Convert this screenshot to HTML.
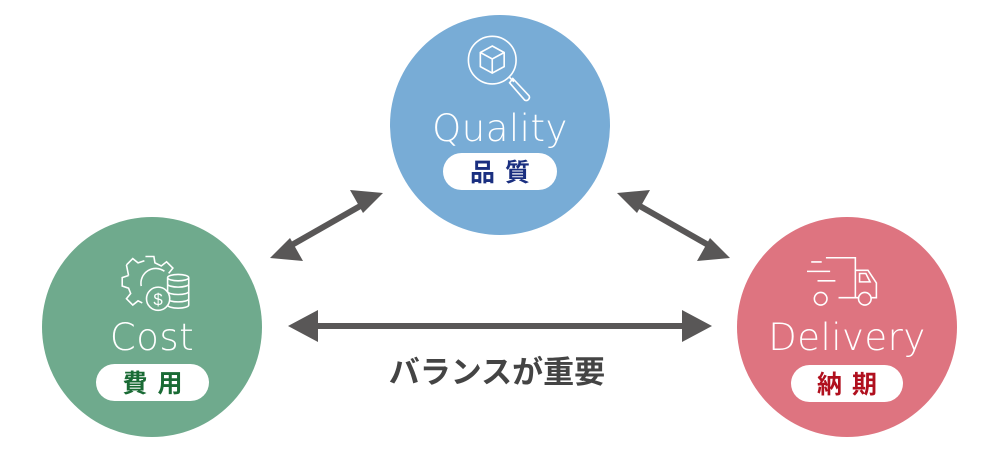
<!DOCTYPE html>
<html><head><meta charset="utf-8"><style>
body{margin:0;background:#fff;width:1000px;height:452px;overflow:hidden;position:relative;font-family:"Liberation Sans","Noto Sans CJK JP",sans-serif}
.c{position:absolute;width:220px;height:220px;border-radius:50%}
.t{position:absolute;left:0;width:220px;text-align:center;color:#fff;font-size:37px;letter-spacing:0.5px;font-family:"DejaVu Sans","Liberation Sans",sans-serif;font-weight:200}
.p{position:absolute;height:37px;background:#fff;border-radius:19px;text-align:center;font-weight:bold;font-size:25px;line-height:37px;letter-spacing:10px;font-family:"Noto Sans CJK JP",sans-serif}
svg{position:absolute}
</style></head><body>
<div class="c" style="left:390px;top:15px;background:#78acd6">
 <svg style="left:76px;top:18px" width="72" height="78" viewBox="0 0 66 72" fill="none" stroke="#fff" stroke-width="1.5">
  <circle cx="24" cy="25" r="22"/>
  <path d="M24 12 L35 18 L35 31 L24 37 L13 31 L13 18 Z M13 18 L24 24 L35 18 M24 24 L24 37"/>
  <path d="M40 41 L44 45 M43 42 L58 58 a3 3 0 0 1 -4 4 L40 46 Z"/>
 </svg>
 <div class="t" style="top:92px">Quality</div>
 <div class="p" style="left:53px;top:138px;width:114px;color:#1a2f80;padding-left:10px;box-sizing:border-box">品質</div>
</div>
<div class="c" style="left:42px;top:217px;background:#6faa8d">
 <svg style="left:76px;top:33px" width="76" height="70" viewBox="0 0 72 66" fill="none" stroke="#fff" stroke-width="1.5">
  <path d="M26 6 L34 6 L35 12 L41 15 L46 11 L52 17 L48 22 M10 24 L4 26 L4 34 L10 36 L12 41 L8 46 L14 52 L19 48 L23 50 M8 14 L14 8 L19 12 L25 10 M10 24 L8 14"/>
  <path d="M22 34 a14 14 0 0 1 22 -14"/>
  <ellipse cx="57" cy="26" rx="10" ry="3"/>
  <path d="M47 26 v26 M67 26 v26 a10 3 0 0 1 -20 0 M47 32 a10 3 0 0 0 20 0 M47 39 a10 3 0 0 0 20 0 M47 46 a10 3 0 0 0 20 0"/>
  <circle cx="38" cy="46" r="11" fill="#6faa8d"/>
  <text x="38" y="52" font-size="16" fill="#fff" stroke="none" text-anchor="middle" font-family="Liberation Sans">$</text>
 </svg>
 <div class="t" style="top:99px">Cost</div>
 <div class="p" style="left:54px;top:147px;width:113px;color:#1a6b35;padding-left:10px;box-sizing:border-box">費用</div>
</div>
<div class="c" style="left:737px;top:217px;background:#de7480">
 <svg style="left:70px;top:40px" width="82" height="54" viewBox="0 0 78 50" fill="none" stroke="#fff" stroke-width="1.5">
  <path d="M4 4 L14 4 M0 13 L22 13 M10 22 L27 22"/>
  <path d="M18 0 L46 0 L46 38 L30 38 M46 12 L58 12 L66 24 L66 38 L61 38 M46 38 L49 38"/>
  <path d="M50 15 L56 15 L60 23 L50 23 Z"/>
  <circle cx="13" cy="39" r="6"/><circle cx="55" cy="39" r="6"/>
 </svg>
 <div class="t" style="top:99px">Delivery</div>
 <div class="p" style="left:54px;top:148px;width:112px;color:#b0101e;padding-left:10px;box-sizing:border-box">納期</div>
</div>
<svg style="left:0;top:0" width="1000" height="452">
 <g fill="#595757" stroke="#595757">
  <line x1="290" y1="246" x2="362" y2="205" stroke-width="6"/>
  <polygon points="270,258 303,261 290,238" stroke="none"/>
  <polygon points="383,193 350,190 363,213" stroke="none"/>
  <line x1="310" y1="326" x2="690" y2="326" stroke-width="6"/>
  <polygon points="288,326 318,310 318,342" stroke="none"/>
  <polygon points="712,326 682,310 682,342" stroke="none"/>
  <line x1="638" y1="205" x2="710" y2="246" stroke-width="6"/>
  <polygon points="617,193 650,190 637,213" stroke="none"/>
  <polygon points="730,258 697,261 710,238" stroke="none"/>
 </g>
 <text x="497" y="383" text-anchor="middle" font-size="31" font-weight="bold" fill="#444" font-family="Noto Sans CJK JP,sans-serif">バランスが重要</text>
</svg>
</body></html>
